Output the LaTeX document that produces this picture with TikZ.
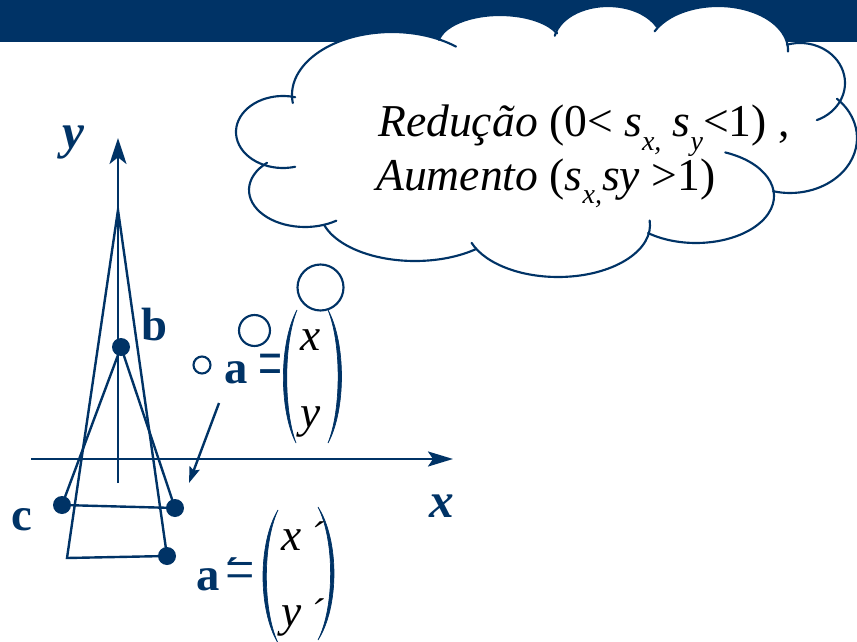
\documentclass[tikz,border=0pt]{standalone}
\usepackage{fontspec}
\setmainfont{Liberation Serif}
\usetikzlibrary{arrows.meta}
\definecolor{nvy}{RGB}{0,51,102}
\newcommand\subsc[1]{\raisebox{-0.3em}{\fontsize{21}{21}\selectfont\itshape #1}}
\begin{document}
\begin{tikzpicture}[x=0.75pt,y=-0.75pt,
  ln/.style={draw=nvy,line width=1.8pt},
  dot/.style={fill=nvy},
  cl/.style={draw=nvy,line width=1.6pt,line cap=round},
  lbl/.style={text=nvy,inner sep=0pt,anchor=base west,font=\fontsize{35}{40}\selectfont\bfseries},
  axl/.style={text=nvy,inner sep=0pt,anchor=base west,font=\fontsize{37}{40}\selectfont\bfseries\itshape},
  ent/.style={text=black,inner sep=0pt,anchor=base west,font=\fontsize{34}{40}\selectfont\itshape},
  eqs/.style={text=nvy,inner sep=0pt,anchor=base},
  prm/.style={inner sep=0pt,anchor=center},
  ctext/.style={text=black,inner sep=0pt,anchor=base west,font=\fontsize{34.2}{40}\selectfont},
  paren/.style={fill=nvy,draw=nvy,line width=0.5pt},
  bub/.style={draw=nvy,line width=1.6pt,fill=white}]
\useasboundingbox (0,0) rectangle (857,642);
\fill[white] (0,0) rectangle (857,642);
% header band
\fill[nvy] (0,0) rectangle (857,42);
% cloud fill
\fill[white] (283,132) ellipse[x radius=47,y radius=36]
  (392,95) ellipse[x radius=100,y radius=63]
  (500,45) ellipse[x radius=62,y radius=30]
  (608,42) ellipse[x radius=54,y radius=36]
  (718,50) ellipse[x radius=70,y radius=44]
  (800,83) ellipse[x radius=45,y radius=40]
  (790,138) ellipse[x radius=67,y radius=55]
  (696,196) ellipse[x radius=78,y radius=47]
  (558,225) ellipse[x radius=92,y radius=52]
  (415,210) ellipse[x radius=95,y radius=51]
  (305,190) ellipse[x radius=56,y radius=37];
\fill[white] (296,97) -- (440,40) -- (557,30) -- (657,27) -- (787,43) -- (840,100)
  -- (773,193) -- (648,238) -- (476,251) -- (322,227) -- (267,165) -- cycle;
% cloud outline lobes
\draw[cl] (283,132) ++(75:47 and 36) arc[start angle=75,end angle=285,x radius=47,y radius=36];
\draw[cl] (392,95) ++(172.7:100 and 63) arc[start angle=172.7,end angle=309.8,x radius=100,y radius=63];
\draw[cl] (500,45) ++(190:62 and 30) arc[start angle=190,end angle=337,x radius=62,y radius=30];
\draw[cl] (608,42) ++(190:54 and 36) arc[start angle=190,end angle=335,x radius=54,y radius=36];
\draw[cl] (718,50) ++(205:70 and 44) arc[start angle=205,end angle=362,x radius=70,y radius=44];
\draw[cl] (800,83) ++(253:45 and 40) arc[start angle=253,end angle=428,x radius=45,y radius=40];
\draw[cl] (790,138) ++(314.5:67 and 55) arc[start angle=314.5,end angle=464.7,x radius=67,y radius=55];
\draw[cl] (696,196) ++(-68:78 and 47) arc[start angle=-68,end angle=128,x radius=78,y radius=47];
\draw[cl] (558,225) ++(-5:92 and 52) arc[start angle=-5,end angle=160,x radius=92,y radius=52];
\draw[cl] (415,210) ++(50:95 and 51) arc[start angle=50,end angle=163,x radius=95,y radius=51];
\draw[cl] (305,190) ++(227.3:56 and 37) arc[start angle=227.3,end angle=56,x radius=56,y radius=37];
% cloud text
\node[ctext] (t1) at (378,137) {\itshape Redução\upshape{} (0< {\itshape s}\subsc{x,} {\itshape s}\subsc{y}<1) ,};
\node[ctext] (t2) at (376,190) {\itshape Aumento\upshape{} ({\itshape s}\subsc{x,}{\itshape sy} >1)};
% thought bubbles
\draw[bub] (202,365) circle[radius=8.5];
\draw[bub] (254.5,330.5) circle[radius=15.5];
\draw[bub] (320.5,287.5) circle[radius=23];
% coordinates
\coordinate (yb) at (118,483);
\coordinate (yt) at (118,138);
\coordinate (xl) at (31,459);
\coordinate (xr) at (453,459);
\coordinate (T) at (118,210);
\coordinate (BL) at (67,558);
\coordinate (Ap) at (167,556);
\coordinate (B) at (121,347);
\coordinate (C) at (62,505);
\coordinate (A) at (175,508);
\coordinate (as) at (219,403);
\coordinate (ae) at (189,483);
% axes
\draw[ln,-{Stealth[length=19.5pt,width=12.75pt,inset=5pt]}] (yb) -- (yt);
\draw[ln,-{Stealth[length=18.75pt,width=11.25pt,inset=3.75pt]}] (xl) -- (xr);
% triangles
\draw[ln,line join=miter] (T) -- (BL) -- (Ap) -- cycle;
\draw[ln,line join=miter] (B) -- (C) -- (A) -- cycle;
\fill[dot] (B) circle[radius=9];
\fill[dot] (C) circle[radius=9];
\fill[dot] (A) circle[radius=9];
\fill[dot] (Ap) circle[radius=9];
% arrow
\draw[ln,-{Stealth[length=12pt,width=8pt,inset=2pt]}] (as) -- (ae);
% labels
\node[axl] (ylab) at (62,148) {y};
\node[axl] (xlab) at (429,517) {x};
\node[lbl] (blab) at (141,340) {b};
\node[lbl] (clab) at (11,530) {c};
\node[lbl] (alab) at (224,383) {a};
\node[eqs] (eq1) at (270,389) {\scalebox{0.55}[1]{\fontsize{58}{58}\selectfont =}};
\node[lbl] (aplab) at (196,590) {a};
\node[prm,text=nvy,font=\fontsize{30}{30}\selectfont\bfseries] (pr0) at (232,572) {´};
\node[eqs] (eq2) at (240,590) {\scalebox{0.85}[1]{\fontsize{46}{46}\selectfont =}};
% matrices
\path[paren] (297,310) .. controls (279,343) and (279,410) .. (296,443) .. controls (283.5,410) and (283.5,343) .. (297,310) -- cycle;
\path[paren] (328,310) .. controls (346,343) and (346,410) .. (328,443) .. controls (341.5,410) and (341.5,343) .. (328,310) -- cycle;
\node[ent] (m1) at (300,350) {x};
\node[ent] (m2) at (300,427) {y};
\path[paren] (278,510) .. controls (258,543) and (258,610) .. (278,643) .. controls (262.5,610) and (262.5,543) .. (278,510) -- cycle;
\path[paren] (318,507) .. controls (339.3,540) and (339.3,607) .. (318,640) .. controls (334.8,607) and (334.8,540) .. (318,507) -- cycle;
\node[ent] (n1) at (281,550) {x};
\node[ent] (n2) at (281,626) {y};
\node[prm,font=\fontsize{30}{30}\selectfont\itshape,text=black] (p1) at (317,536) {´};
\node[prm,font=\fontsize{30}{30}\selectfont\itshape,text=black] (p2) at (317,613) {´};
\end{tikzpicture}
\end{document}
